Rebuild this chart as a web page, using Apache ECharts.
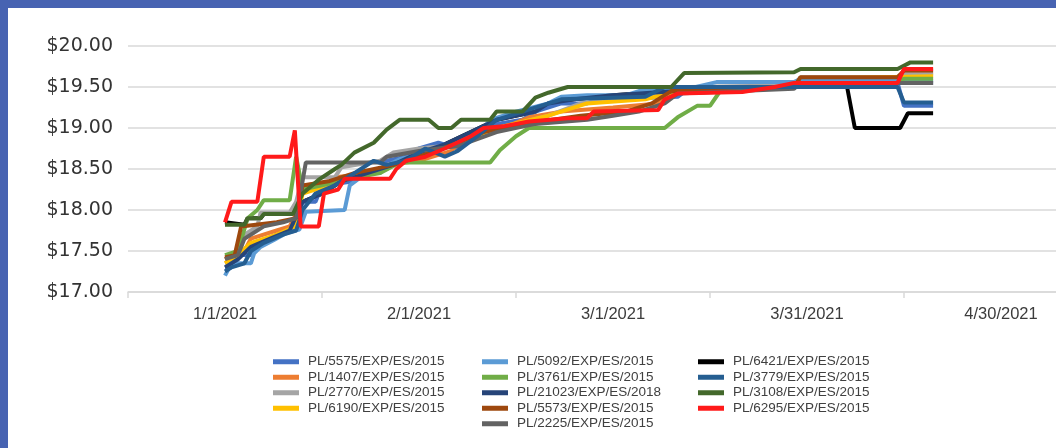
<!DOCTYPE html>
<html>
<head>
<meta charset="utf-8">
<script src="https://cdn.jsdelivr.net/npm/echarts@6/dist/echarts.min.js"></script>
<style>
  html, body { margin: 0; padding: 0; width: 1056px; height: 448px; background: #4763b2; overflow: hidden; position: relative; }
  #wrap { position: absolute; left: 8px; top: 8px; width: 1048px; height: 440px; background: #ffffff; overflow: hidden; }
  #chart { position: absolute; left: 0; top: 0; width: 1090px; height: 440px; }
</style>
</head>
<body>
<div id="wrap"><div id="chart"></div></div>
<script>
// x tick labels (category bins)
const dateLabels = ['1/1/2021', '2/1/2021', '3/1/2021', '3/31/2021', '4/30/2021'];
// y ticks
const yMin = 17, yMax = 20, yStep = 0.5;

// series names (legend order)
const names = [
  'PL/5575/EXP/ES/2015', 'PL/1407/EXP/ES/2015', 'PL/2770/EXP/ES/2015', 'PL/6190/EXP/ES/2015',
  'PL/5092/EXP/ES/2015', 'PL/3761/EXP/ES/2015', 'PL/21023/EXP/ES/2018', 'PL/5573/EXP/ES/2015', 'PL/2225/EXP/ES/2015',
  'PL/6421/EXP/ES/2015', 'PL/3779/EXP/ES/2015', 'PL/3108/EXP/ES/2015', 'PL/6295/EXP/ES/2015'
];

// values: [days since 1/1/2021, price]
const s5575 = [[0,17.3],[1,17.3],[2,17.45],[4,17.45],[5,17.6],[8,17.7],[10,17.75],[11,17.85],[12,18.1],[14,18.1],[15,18.3],[20,18.35],[21,18.45],[24,18.45],[25,18.6],[28,18.65],[30,18.75],[33,18.82],[36,18.75],[38,18.9],[42,19.05],[46,19.1],[48,19.2],[52,19.3],[56,19.3],[58,19.35],[70,19.38],[72,19.5],[88,19.5],[89,19.55],[104,19.55],[105,19.27],[109.5,19.27]];
const s1407 = [[0,17.4],[1,17.45],[3,17.5],[4,17.65],[8,17.75],[10,17.8],[11,17.95],[12,18.3],[16,18.3],[17,18.4],[23,18.45],[25,18.55],[30,18.6],[35,18.72],[37,18.88],[40,18.9],[43,19.0],[47,19.13],[52,19.2],[60,19.25],[67,19.3],[69,19.42],[78,19.45],[88,19.5],[89,19.6],[104,19.6],[105,19.65],[109.5,19.65]];
const s2770 = [[0,17.35],[2,17.4],[3,17.7],[5,17.8],[5.5,17.97],[10,17.97],[11,18.1],[12,18.4],[17,18.4],[18,18.52],[24,18.6],[26,18.7],[30,18.75],[36,18.8],[40,18.95],[45,19.05],[50,19.15],[55,19.3],[60,19.35],[70,19.42],[72,19.5],[88,19.52],[89,19.62],[104,19.62],[105,19.67],[109.5,19.67]];
const s6190 = [[0,17.35],[2,17.45],[4,17.6],[8,17.7],[11,17.8],[12,18.2],[16,18.3],[20,18.4],[25,18.5],[30,18.7],[38,18.85],[42,19.0],[50,19.15],[56,19.3],[65,19.35],[70,19.45],[88,19.5],[89,19.6],[109.5,19.63]];
const s5092 = [[0,17.2],[1,17.35],[4,17.35],[4.5,17.47],[5.5,17.55],[7.5,17.63],[9.5,17.72],[11.5,17.76],[12.5,17.98],[18.5,18.0],[19.3,18.3],[21,18.4],[24,18.5],[27,18.62],[30,18.68],[35,18.8],[40,19.0],[41,19.1],[45,19.2],[50,19.3],[52,19.38],[56,19.4],[62,19.4],[64,19.45],[70,19.45],[76,19.56],[88,19.56],[89,19.6],[109.5,19.58]];
const s3761 = [[0,17.45],[2,17.5],[3.5,17.9],[5,18.0],[6,18.12],[10,18.12],[11,18.65],[12,18.25],[15,18.3],[19,18.38],[24,18.45],[27,18.58],[41,18.58],[42.5,18.73],[45,18.9],[47,19.0],[68,19.0],[70,19.13],[73,19.27],[75,19.27],[77,19.5],[88,19.5],[89,19.55],[104,19.55],[105,19.6],[109.5,19.6]];
const s21023 = [[0,17.3],[2,17.4],[4,17.55],[7,17.65],[10,17.75],[12,18.1],[15,18.2],[18,18.35],[22,18.45],[26,18.55],[30,18.7],[34,18.8],[38,18.95],[42,19.1],[48,19.2],[50,19.3],[54,19.35],[60,19.4],[70,19.45],[72,19.5],[88,19.5],[89,19.55],[109.5,19.55]];
const s5573 = [[0,17.42],[1.5,17.45],[2.5,17.8],[8,17.85],[11,17.9],[12,18.3],[16,18.35],[20,18.45],[26,18.55],[30,18.65],[36,18.82],[40,18.95],[46,19.05],[55,19.15],[62,19.2],[66,19.3],[69,19.45],[80,19.48],[88,19.5],[89,19.62],[104,19.62],[105,19.7],[109.5,19.7]];
const s2225 = [[0,17.4],[2,17.45],[3,17.65],[6,17.8],[9,17.85],[11,17.9],[12.5,18.58],[24,18.58],[25,18.65],[30,18.72],[36,18.78],[42,18.95],[48,19.05],[56,19.1],[60,19.15],[64,19.2],[68,19.3],[70,19.42],[88,19.48],[89,19.55],[109.5,19.55]];
const s6421 = [[0,17.85],[3,17.82],[3.5,17.9],[5.5,17.9],[6,17.95],[10.5,17.95],[12,18.1],[15,18.2],[18,18.35],[22,18.45],[26,18.55],[30,18.7],[34,18.8],[38,18.95],[42,19.1],[48,19.2],[50,19.3],[54,19.35],[60,19.4],[70,19.45],[72,19.5],[96.2,19.5],[97.4,19.0],[104.4,19.0],[105.6,19.18],[109.5,19.18]];
const s3779 = [[0,17.25],[1,17.3],[3,17.35],[4,17.5],[6,17.6],[9,17.7],[11,17.75],[12,18.0],[14,18.2],[17,18.3],[20,18.45],[23,18.6],[25,18.55],[28,18.6],[31,18.75],[34,18.65],[36,18.72],[39,18.9],[42,19.1],[46,19.2],[52,19.35],[65,19.38],[68,19.5],[104,19.5],[105,19.31],[109.5,19.31]];
const s3108 = [[0,17.82],[3,17.82],[3.5,17.9],[5.5,17.9],[6,17.95],[10.5,17.95],[12,18.2],[14.5,18.37],[17,18.5],[18,18.55],[20,18.7],[23,18.82],[25,18.98],[27,19.1],[31.5,19.1],[33,19.0],[35,19.0],[36.5,19.1],[41,19.1],[42,19.2],[46,19.2],[48,19.37],[50,19.43],[53,19.5],[69,19.5],[71,19.67],[88,19.68],[89,19.72],[104,19.72],[106,19.8],[109.5,19.8]];
const s6295 = [[0,17.85],[1,18.1],[5,18.1],[6,18.65],[10,18.65],[10.8,18.97],[11.7,17.8],[14.5,17.8],[15.3,18.2],[17.5,18.25],[18.5,18.38],[25.5,18.38],[26.5,18.5],[28,18.6],[31,18.65],[34,18.75],[38,18.9],[40,19.0],[43,19.02],[47,19.08],[53,19.12],[56,19.12],[57,19.2],[67,19.22],[68,19.35],[70,19.42],[80,19.44],[85,19.5],[88,19.55],[104,19.55],[105,19.72],[109.5,19.72]];

const seriesData = [s5575, s1407, s2770, s6190, s5092, s3761, s21023, s5573, s2225, s6421, s3779, s3108, s6295];
const colors = ['#4472C4', '#ED7D31', '#A5A5A5', '#FFC000', '#5B9BD5', '#70AD47', '#264478', '#9E480E', '#636363', '#000000', '#255E91', '#43682B', '#FF1A1A'];
// drawing layer per series (black sits underneath the bundle)
const layers = [2, 2, 2, 2, 2, 2, 2, 2, 2, 1, 2, 2, 3];

const chart = echarts.init(document.getElementById('chart'), null, { renderer: 'canvas' });

const legendBase = {
  orient: 'vertical',
  icon: 'rect',
  itemWidth: 26,
  itemHeight: 5,
  itemGap: 0,
  padding: 0,
  selectedMode: false,
  textStyle: { fontFamily: 'Liberation Sans, Arial, sans-serif', fontSize: 13.5, lineHeight: 15.5, color: '#404040', padding: [0, 0, 0, 4] }
};

chart.setOption({
  backgroundColor: '#ffffff',
  animation: false,
  color: colors,
  grid: { left: 120, right: 0, top: 38, bottom: 156, containLabel: false },
  legend: [
    Object.assign({}, legendBase, { left: 265, top: 346, data: names.slice(0, 4) }),
    Object.assign({}, legendBase, { left: 474, top: 346, data: names.slice(4, 9) }),
    Object.assign({}, legendBase, { left: 690, top: 346, data: names.slice(9, 13) })
  ],
  xAxis: [
    {
      type: 'category',
      data: dateLabels,
      boundaryGap: true,
      axisLine: { lineStyle: { color: '#d9d9d9', width: 1.5 } },
      axisTick: { show: true, alignWithLabel: false, length: 6, lineStyle: { color: '#d9d9d9', width: 1.5 } },
      axisLabel: { fontFamily: 'Liberation Sans, Arial, sans-serif', fontSize: 16.5, color: '#3c3c3c', margin: 14 },
      splitLine: { show: false }
    },
    { type: 'value', min: -15, max: 135, show: false }
  ],
  yAxis: {
    type: 'value',
    min: yMin, max: yMax, interval: yStep,
    axisLine: { show: false },
    axisTick: { show: false },
    axisLabel: {
      fontFamily: 'DejaVu Sans, sans-serif', fontSize: 19, color: '#333333', margin: 15,
      formatter: v => '$' + v.toFixed(2)
    },
    splitLine: { lineStyle: { color: '#d9d9d9', width: 1.5 } }
  },
  series: names.map((n, i) => ({
    name: n,
    type: 'line',
    xAxisIndex: 1,
    z: layers[i],
    data: seriesData[i],
    showSymbol: false,
    symbol: 'none',
    lineStyle: { width: 4, color: colors[i] },
    itemStyle: { color: colors[i] },
    emphasis: { disabled: true }
  }))
});
</script>
</body>
</html>
